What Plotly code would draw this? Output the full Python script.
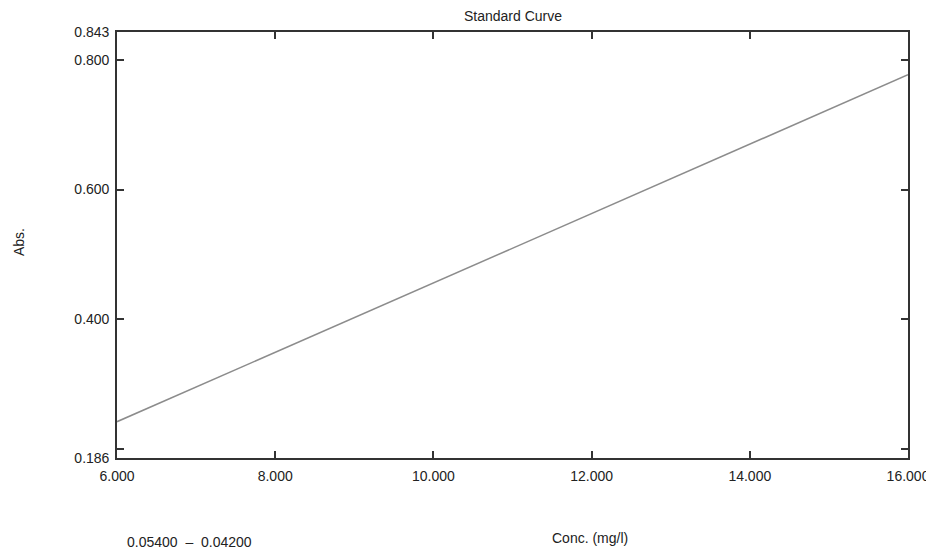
import plotly.graph_objects as go

# Data
conc = [6.0, 8.0, 10.0, 12.0, 14.0, 16.0]
absorbance = [0.242, 0.349, 0.456, 0.563, 0.670, 0.777]

x_tickvals = [6.0, 8.0, 10.0, 12.0, 14.0, 16.0]
x_ticktext = ["6.000", "8.000", "10.000", "12.000", "14.000", "16.000"]
y_tickvals = [0.186, 0.2, 0.4, 0.6, 0.8, 0.843]
y_ticktext = ["0.186", "", "0.400", "0.600", "0.800", "0.843"]

title_text = "Standard Curve"
x_title = "Conc. (mg/l)"
y_title = "Abs."
equation_text = "0.05400  –  0.04200"

font_family = "Liberation Sans, Arial, sans-serif"
ink = "#222222"
axis_col = "#333333"

W, H = 934, 550
OFF = 8  # page body margin
L, R, T, B = 117 - OFF, 25, 32 - OFF, 92 + OFF

fig = go.Figure()
fig.add_trace(go.Scatter(
    x=conc, y=absorbance, mode="lines",
    line=dict(color="#8c8c8c", width=1.5),
    showlegend=False, hoverinfo="skip",
))

axis_common = dict(
    showgrid=False, zeroline=False, showline=True, linecolor=axis_col, linewidth=1.6,
    mirror="ticks", ticks="inside", ticklen=7, tickwidth=1.5, tickcolor=axis_col,
    tickfont=dict(family=font_family, size=14, color=ink),
)

fig.update_xaxes(range=[6.0, 16.0], tickmode="array", tickvals=x_tickvals, ticktext=x_ticktext,
                 ticklabelstandoff=4, **axis_common)
fig.update_yaxes(range=[0.186, 0.843], tickmode="array", tickvals=y_tickvals, ticktext=y_ticktext,
                 ticklabelstandoff=3, **axis_common)

plot_w = W - L - R

fig.update_layout(
    width=W, height=H,
    margin=dict(l=L, r=R, t=T, b=B),
    paper_bgcolor="white", plot_bgcolor="white",
    title=dict(text=title_text, x=(513 - OFF) / W, xanchor="center",
               y=1 - (16 - OFF) / H, yanchor="middle",
               font=dict(family=font_family, size=14, color=ink)),
    annotations=[
        dict(text=x_title, xref="paper", yref="paper", x=(595 - 117) / plot_w, y=-(538 - 458) / 426,
             xanchor="center", yanchor="middle", showarrow=False,
             font=dict(family=font_family, size=14, color=ink)),
        dict(text=y_title, xref="paper", yref="paper", x=(18 - 117) / plot_w, y=(458 - 242) / 426,
             xanchor="center", yanchor="middle", showarrow=False, textangle=-90,
             font=dict(family=font_family, size=14, color=ink)),
        dict(text=equation_text, xref="paper", yref="paper", x=(125 - 117) / plot_w, y=-(542 - 458) / 426,
             xanchor="left", yanchor="middle", showarrow=False,
             font=dict(family=font_family, size=14, color=ink)),
    ],
)

fig.write_html("out.html")
